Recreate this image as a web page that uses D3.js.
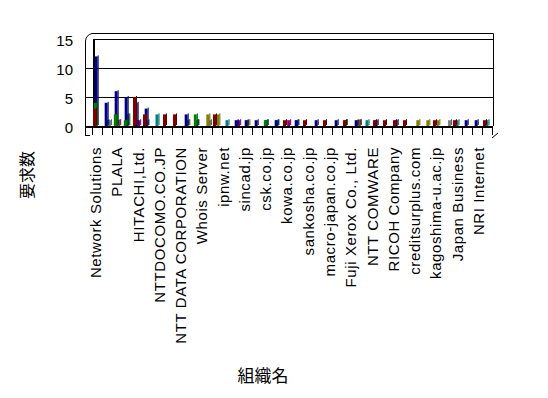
<!DOCTYPE html>
<html>
<head>
<meta charset="utf-8">
<script src="https://cdn.jsdelivr.net/npm/d3@7"></script>
<style>
  body { margin: 0; background: #fff; }
  svg { display: block; }
  text { font-family: "Liberation Sans", Arial, sans-serif; fill: #000; }
</style>
</head>
<body>
<svg id="chart" width="548" height="398"></svg>
<script>
// category labels shown on the axis
const tickLabels = [
  'Network Solutions', 'PLALA', 'HITACHI,Ltd.', 'NTTDOCOMO.CO.JP',
  'NTT DATA CORPORATION', 'Whois Server', 'ipnw.net', 'sincad.jp',
  'csk.co.jp', 'kowa.co.jp', 'sankosha.co.jp', 'macro-japan.co.jp',
  'Fuji Xerox Co., Ltd.', 'NTT COMWARE', 'RICOH Company', 'creditsurplus.com',
  'kagoshima-u.ac.jp', 'Japan Business', 'NRI Internet'
];
const nCategories = 40;
const yTicks = [0, 5, 10, 15];

// series values, one per category
const maroon = [3,0,0,0,5,2,0,2,2,0, 0,0,2,0,0,0,0,0,0,1, 0,1,0,1,0,1,0,0,1,1, 1,1,0,0,1,0,1,0,0,1];
const green  = [4,0,2,1,0,0,0,0,0,0, 2,0,0,0,0,0,0,1,0,0, 0,0,0,0,0,1,0,0,0,0, 0,0,0,0,0,0,0,0,0,0];
const navy   = [12,4,6,5,4,3,0,0,0,2, 1,0,0,0,1,1,1,1,1,0, 1,0,1,0,1,0,1,0,1,0, 1,0,0,0,0,0,0,1,1,0];
const teal   = [0,1,0,2,0,1,2,0,0,1, 1,0,0,1,0,0,0,0,1,0, 1,0,0,0,0,0,0,1,0,0, 0,0,0,0,0,0,1,0,0,1];
const olive  = [0,0,1,2,0,0,0,0,0,1, 0,2,2,0,0,1,0,0,0,0, 0,0,0,0,0,0,1,0,0,0, 0,0,1,1,1,0,0,0,0,0];
const purple = [0,0,1,0,1,0,0,0,0,0, 0,0,0,0,1,0,0,0,0,1, 0,0,0,0,0,0,1,0,0,0, 0,0,0,0,0,0,0,0,0,0];
const gray   = [0,1,0,0,0,0,0,0,0,0, 0,1,0,0,0,0,0,0,0,0, 0,0,0,0,0,0,1,0,0,0, 0,0,0,0,0,1,0,0,0,0];

const series = [
  { name: 'maroon', values: maroon, color: '#800000' },
  { name: 'green',  values: green,  color: '#008000' },
  { name: 'navy',   values: navy,   color: '#000080' },
  { name: 'teal',   values: teal,   color: '#008080' },
  { name: 'olive',  values: olive,  color: '#808000' },
  { name: 'purple', values: purple, color: '#800080' },
  { name: 'gray',   values: gray,   color: '#808080' }
];

const svg = d3.select('#chart');

const x = d3.scaleBand().domain(d3.range(nCategories)).range([92, 492]).padding(0);
const xs = d3.scalePoint().domain(series.map(s => s.name)).range([1, 6]);
const xl = d3.scalePoint().domain(tickLabels).range([97, 480]);
const y = d3.scaleLinear().domain([0, 15]).range([126, 39]);
const barW = 3;

// walls + gridlines
const frame = svg.append('g').attr('fill', 'none').attr('stroke', '#000');
frame.append('path').attr('d', `M85.5,135 V${y(15) + 2} Q86,35 92,33.5 H493.5 V126`);
frame.selectAll('line.grid')
  .data(yTicks.filter(d => d > 0))
  .join('line')
    .attr('class', 'grid')
    .attr('x1', d => d === 15 ? 94 : 85)
    .attr('x2', 493)
    .attr('y1', d => y(d) + 0.5)
    .attr('y2', d => y(d) + 0.5);
frame.append('line').attr('x1', 94).attr('x2', 94).attr('y1', y(15)).attr('y2', 128).attr('stroke-width', 2);
frame.append('line').attr('x1', 85).attr('x2', 90).attr('y1', 135.5).attr('y2', 135.5);
frame.append('line').attr('x1', 492).attr('x2', 498).attr('y1', 138).attr('y2', 133);

// bars, back series first
const bars = svg.append('g');
series.slice().reverse().forEach(s => {
  const g = bars.append('g');
  const data = s.values.map((v, i) => ({ i, v })).filter(d => d.v > 0);
  const dark = d3.color(s.color).darker(0.8);
  g.selectAll('rect.side')
    .data(data)
    .join('rect')
      .attr('x', d => x(d.i) + xs(s.name) + barW)
      .attr('y', d => y(d.v) - 1)
      .attr('width', 1)
      .attr('height', d => y(0) - y(d.v))
      .attr('fill', dark);
  g.selectAll('rect.front')
    .data(data)
    .join('rect')
      .attr('x', d => x(d.i) + xs(s.name))
      .attr('y', d => y(d.v))
      .attr('width', barW)
      .attr('height', d => y(0) - y(d.v))
      .attr('fill', s.color);
});

// floor line + ticks
svg.append('rect').attr('x', 85).attr('y', 126).attr('width', 408).attr('height', 2).attr('fill', '#000');
svg.append('g')
  .selectAll('line')
  .data(d3.range(nCategories + 1))
  .join('line')
    .attr('x1', i => i < nCategories ? x(i) + 0.5 : 492.5)
    .attr('x2', i => i < nCategories ? x(i) + 0.5 : 492.5)
    .attr('y1', 128).attr('y2', 135)
    .attr('stroke', '#000');

// y tick labels
svg.append('g')
  .selectAll('text')
  .data(yTicks)
  .join('text')
    .attr('x', 73)
    .attr('y', d => y(d) + 3)
    .attr('text-anchor', 'end')
    .attr('dominant-baseline', 'middle')
    .style('font-size', '15px')
    .text(d => d);

// x tick labels, rotated
svg.append('g')
  .selectAll('text')
  .data(tickLabels)
  .join('text')
    .attr('transform', d => `translate(${xl(d)},147) rotate(-90)`)
    .attr('text-anchor', 'end')
    .attr('dominant-baseline', 'middle')
    .style('font-size', '15px')
    .style('letter-spacing', '0.6px')
    .text(d => d);

// axis titles
svg.append('text')
  .attr('transform', 'translate(29,175) rotate(-90)')
  .attr('text-anchor', 'middle')
  .attr('dominant-baseline', 'middle')
  .style('font-family', '"Noto Sans CJK JP", sans-serif')
  .style('font-size', '16px')
  .text('要求数');

svg.append('text')
  .attr('x', 263)
  .attr('y', 377)
  .attr('text-anchor', 'middle')
  .attr('dominant-baseline', 'middle')
  .style('font-family', '"Noto Sans CJK JP", sans-serif')
  .style('font-size', '17px')
  .text('組織名');
</script>
</body>
</html>
